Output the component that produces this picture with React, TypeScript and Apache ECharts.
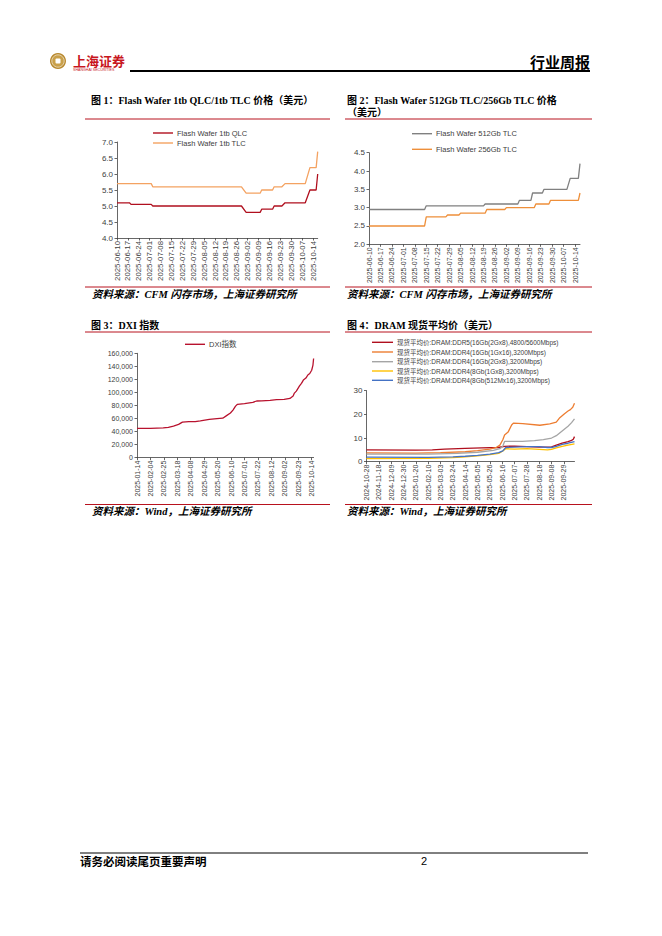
import React, { useEffect, useRef } from "react";
import * as echarts from "echarts";

// ---------- Figure 1: Flash Wafer 1tb QLC / 1tb TLC (USD) ----------
const fig1Range = ["2025-06-10", "2025-10-17"];
const qlc1tb: [string, number][] = [
  ["2025-06-10", 5.1], ["2025-06-18", 5.1], ["2025-06-19", 5.05], ["2025-07-02", 5.05],
  ["2025-07-03", 5.0], ["2025-08-29", 5.0], ["2025-09-01", 4.8], ["2025-09-10", 4.8],
  ["2025-09-11", 4.9], ["2025-09-18", 4.9], ["2025-09-19", 5.0], ["2025-09-24", 5.0],
  ["2025-09-26", 5.1], ["2025-10-09", 5.1], ["2025-10-12", 5.5], ["2025-10-16", 5.5],
  ["2025-10-17", 6.0],
];
const tlc1tb: [string, number][] = [
  ["2025-06-10", 5.7], ["2025-07-02", 5.7], ["2025-07-03", 5.6], ["2025-08-29", 5.6],
  ["2025-09-01", 5.4], ["2025-09-10", 5.4], ["2025-09-11", 5.5], ["2025-09-18", 5.5],
  ["2025-09-19", 5.6], ["2025-09-24", 5.6], ["2025-09-26", 5.7], ["2025-10-09", 5.7],
  ["2025-10-12", 6.2], ["2025-10-16", 6.2], ["2025-10-17", 6.7],
];

// ---------- Figure 2: Flash Wafer 512Gb TLC / 256Gb TLC (USD) ----------
const fig2Range = ["2025-06-10", "2025-10-17"];
const tlc512: [string, number][] = [
  ["2025-06-10", 2.95], ["2025-07-14", 2.95], ["2025-07-15", 3.05], ["2025-08-19", 3.05],
  ["2025-08-20", 3.1], ["2025-09-09", 3.1], ["2025-09-10", 3.2], ["2025-09-17", 3.2],
  ["2025-09-18", 3.4], ["2025-09-24", 3.4], ["2025-09-25", 3.5], ["2025-10-09", 3.5],
  ["2025-10-11", 3.8], ["2025-10-16", 3.8], ["2025-10-17", 4.2],
];
const tlc256: [string, number][] = [
  ["2025-06-10", 2.5], ["2025-07-14", 2.5], ["2025-07-15", 2.75], ["2025-07-27", 2.75],
  ["2025-07-28", 2.8], ["2025-08-04", 2.8], ["2025-08-05", 2.85], ["2025-08-20", 2.85],
  ["2025-08-21", 2.95], ["2025-09-01", 2.95], ["2025-09-02", 3.0], ["2025-09-19", 3.0],
  ["2025-09-20", 3.1], ["2025-09-28", 3.1], ["2025-09-29", 3.2], ["2025-10-16", 3.2],
  ["2025-10-17", 3.4],
];

// ---------- Figure 3: DXI index ----------
const fig3Range = ["2025-01-14", "2025-10-17"];
const dxi: [string, number][] = [
  ["2025-01-14", 44800], ["2025-02-04", 45000], ["2025-02-24", 45600], ["2025-03-04", 46500],
  ["2025-03-12", 48500], ["2025-03-20", 51000], ["2025-03-26", 54500], ["2025-04-05", 55200],
  ["2025-04-15", 55300], ["2025-04-23", 56500], ["2025-05-07", 58800], ["2025-05-19", 59800],
  ["2025-05-28", 60500], ["2025-06-03", 64500], ["2025-06-09", 68500], ["2025-06-13", 73000],
  ["2025-06-17", 79000], ["2025-06-20", 81800], ["2025-07-01", 83000], ["2025-07-14", 84900],
  ["2025-07-20", 86900], ["2025-07-28", 87000], ["2025-08-10", 88000], ["2025-08-20", 89000],
  ["2025-09-01", 89500], ["2025-09-10", 90800], ["2025-09-15", 94600], ["2025-09-17", 99000],
  ["2025-09-20", 102000], ["2025-09-25", 110000], ["2025-09-28", 114000], ["2025-10-01", 119000],
  ["2025-10-05", 122000], ["2025-10-08", 126700], ["2025-10-11", 129000], ["2025-10-14", 134000],
  ["2025-10-16", 142000], ["2025-10-17", 152000],
];

// ---------- Figure 4: DRAM spot average price (USD) ----------
const fig4Range = ["2024-10-28", "2025-10-17"];
const ddr5_16Gb_2Gx8: [string, number][] = [
  ["2024-10-28", 5.0], ["2025-01-20", 4.9], ["2025-02-17", 5.0], ["2025-03-10", 5.3],
  ["2025-04-14", 5.6], ["2025-05-12", 5.8], ["2025-06-09", 6.0], ["2025-06-20", 6.5],
  ["2025-07-07", 6.6], ["2025-07-28", 6.4], ["2025-08-18", 6.2], ["2025-09-08", 6.3],
  ["2025-09-16", 7.0], ["2025-09-26", 7.8], ["2025-10-06", 8.5], ["2025-10-12", 9.0],
  ["2025-10-15", 9.5], ["2025-10-17", 10.6],
];
const ddr4_16Gb_1Gx16: [string, number][] = [
  ["2024-10-28", 3.7], ["2025-01-20", 3.6], ["2025-03-03", 3.8], ["2025-04-14", 4.2],
  ["2025-05-05", 4.7], ["2025-05-26", 5.3], ["2025-06-05", 5.9], ["2025-06-12", 7.0],
  ["2025-06-17", 9.3], ["2025-06-20", 11.3], ["2025-06-26", 12.5], ["2025-07-02", 15.5],
  ["2025-07-05", 16.3], ["2025-07-21", 16.1], ["2025-08-19", 15.4], ["2025-09-05", 16.0],
  ["2025-09-16", 16.7], ["2025-09-22", 18.6], ["2025-09-30", 20.3], ["2025-10-06", 21.4],
  ["2025-10-10", 22.0], ["2025-10-14", 23.0], ["2025-10-17", 24.7],
];
const ddr4_16Gb_2Gx8: [string, number][] = [
  ["2024-10-28", 3.2], ["2025-02-10", 3.2], ["2025-04-01", 3.5], ["2025-05-05", 4.0],
  ["2025-06-01", 4.8], ["2025-06-12", 5.5], ["2025-06-17", 6.5], ["2025-06-20", 8.6],
  ["2025-07-20", 8.6], ["2025-08-10", 8.9], ["2025-08-25", 9.3], ["2025-09-08", 10.0],
  ["2025-09-16", 11.0], ["2025-09-26", 13.0], ["2025-10-06", 15.0], ["2025-10-12", 16.5],
  ["2025-10-17", 18.1],
];
const ddr4_8Gb_1Gx8: [string, number][] = [
  ["2024-10-28", 1.3], ["2025-02-10", 1.4], ["2025-03-24", 1.7], ["2025-04-14", 2.0],
  ["2025-05-05", 2.5], ["2025-05-26", 3.0], ["2025-06-10", 3.5], ["2025-06-17", 4.5],
  ["2025-06-22", 5.5], ["2025-07-07", 5.3], ["2025-07-28", 5.5], ["2025-08-18", 5.2],
  ["2025-09-01", 5.0], ["2025-09-08", 5.2], ["2025-09-16", 5.8], ["2025-09-26", 6.5],
  ["2025-10-06", 7.0], ["2025-10-17", 7.5],
];
const ddr4_8Gb_512Mx16: [string, number][] = [
  ["2024-10-28", 1.9], ["2025-02-10", 1.8], ["2025-03-24", 2.0], ["2025-04-14", 2.3],
  ["2025-05-05", 2.7], ["2025-05-26", 3.2], ["2025-06-10", 3.8], ["2025-06-17", 4.6],
  ["2025-06-22", 6.0], ["2025-07-07", 6.2], ["2025-07-28", 6.4], ["2025-08-18", 6.4],
  ["2025-09-01", 6.0], ["2025-09-08", 6.0], ["2025-09-16", 6.5], ["2025-09-26", 7.3],
  ["2025-10-06", 7.8], ["2025-10-17", 8.5],
];

const fig4Names = [
  "现货平均价:DRAM:DDR5(16Gb(2Gx8),4800/5600Mbps)",
  "现货平均价:DRAM:DDR4(16Gb(1Gx16),3200Mbps)",
  "现货平均价:DRAM:DDR4(16Gb(2Gx8),3200Mbps)",
  "现货平均价:DRAM:DDR4(8Gb(1Gx8),3200Mbps)",
  "现货平均价:DRAM:DDR4(8Gb(512Mx16),3200Mbps)",
];
const fig4Colors = ["#B00F1E", "#ED7D31", "#A5A5A5", "#FFC000", "#4472C4"];

const DAY = 86400000;
function dayList(range: string[]): string[] {
  const out: string[] = [];
  const s = Date.parse(range[0] + "T00:00:00Z");
  const e = Date.parse(range[1] + "T00:00:00Z");
  for (let t = s; t <= e; t += DAY) out.push(new Date(t).toISOString().slice(0, 10));
  return out;
}

const SANS = '"Liberation Sans", Arial, "Noto Sans CJK SC", sans-serif';
const TITLE_FONT = '"Liberation Serif", "Noto Sans CJK SC", serif';
const CJK = '"Noto Sans CJK SC", sans-serif';
const AXIS_COLOR = "#404040";
const RED = "#B8121E";

export default function App() {
  const ref = useRef<HTMLDivElement>(null);
  useEffect(() => {
    if (!ref.current) return;
    const chart = echarts.init(ref.current, undefined, { renderer: "svg" });

    const xAx = (gridIndex: number, data: string[], interval: number, fontSize: number) => ({
      type: "category",
      gridIndex,
      data,
      boundaryGap: false,
      axisLine: { lineStyle: { color: AXIS_COLOR, width: 0.8 } },
      axisTick: { show: true, interval, length: 2.5, lineStyle: { color: AXIS_COLOR, width: 0.8 } },
      axisLabel: { interval, rotate: 90, fontSize, margin: 3, color: "#404040", fontFamily: SANS },
      splitLine: { show: false },
    });
    const yAx = (gridIndex: number, min: number, max: number, interval: number, fmt: (v: number) => string, fontSize: number) => ({
      type: "value",
      gridIndex,
      min,
      max,
      interval,
      axisLine: { show: true, lineStyle: { color: AXIS_COLOR, width: 0.8 } },
      axisTick: { show: true, length: 2.5, lineStyle: { color: AXIS_COLOR, width: 0.8 } },
      axisLabel: { formatter: fmt, fontSize, margin: 4, color: "#404040", fontFamily: SANS },
      splitLine: { show: false },
    });
    const line = (name: string, xi: number, data: [string, number][], color: string) => ({
      type: "line",
      name,
      xAxisIndex: xi,
      yAxisIndex: xi,
      data,
      showSymbol: false,
      symbol: "none",
      lineStyle: { color, width: 1.3 },
      itemStyle: { color },
    });
    const leg = (name: string, left: number, top: number, w: number, fs: number, lh: number) => ({
      data: [name],
      left,
      top,
      padding: 0,
      itemGap: 0,
      icon: "rect",
      itemWidth: w,
      itemHeight: 1.4,
      selectedMode: false,
      textStyle: { fontSize: fs, lineHeight: lh, color: "#404040", fontFamily: SANS, padding: [0, 0, 0, -1] },
    });

    const txt = (text: string, x: number, y: number, font: string, size: number, opts: any = {}) => ({
      type: "text",
      style: {
        text,
        x,
        y,
        fontFamily: font,
        fontSize: size,
        fontWeight: opts.weight || "bold",
        fontStyle: opts.style || "normal",
        fill: opts.fill || "#000",
        verticalAlign: "middle",
        align: opts.align || "left",
      },
    });
    const hline = (x1: number, x2: number, y: number, color: string, w: number) => ({
      type: "line",
      shape: { x1, y1: y, x2, y2: y },
      style: { stroke: color, lineWidth: w },
    });

    const d1 = dayList(fig1Range);
    const d2 = dayList(fig2Range);
    const d3 = dayList(fig3Range);
    const d4 = dayList(fig4Range);

    const option: any = {
      animation: false,
      backgroundColor: "#fff",
      grid: [
        { left: 117, top: 142, width: 200.7, height: 96, outerBoundsMode: "none" },
        { left: 369, top: 152.7, width: 211, height: 91.6, outerBoundsMode: "none" },
        { left: 137, top: 353.3, width: 176.6, height: 104.4, outerBoundsMode: "none" },
        { left: 366.5, top: 390.7, width: 208, height: 71, outerBoundsMode: "none" },
      ],
      xAxis: [xAx(0, d1, 6, 7.8), xAx(1, d2, 6, 7), xAx(2, d3, 20, 7), xAx(3, d4, 20, 7)],
      yAxis: [
        yAx(0, 4, 7, 0.5, (v) => v.toFixed(1), 8),
        yAx(1, 2, 4.5, 0.5, (v) => v.toFixed(1), 8),
        yAx(2, 0, 160000, 20000, (v) => String(v).replace(/\B(?=(\d{3})+(?!\d))/g, ","), 7),
        yAx(3, 0, 30, 10, (v) => String(v), 8),
      ],
      legend: [
        leg("Flash Wafer 1tb QLC", 153, 128, 20, 7.5, 10),
        leg("Flash Wafer 1tb TLC", 153, 138, 20, 7.5, 10),
        leg("Flash Wafer 512Gb TLC", 412, 128.7, 20, 7.5, 10),
        leg("Flash Wafer 256Gb TLC", 412, 144.3, 20, 7.5, 10),
        leg("DXI指数", 185, 339.3, 20, 7.5, 10),
        ...fig4Names.map((n, i) => leg(n, 372, [342.3, 352, 361.7, 371, 380.3][i] - 4.5, 21, 6.5, 9)),
      ],
      series: [
        line("Flash Wafer 1tb QLC", 0, qlc1tb, "#B00F1E"),
        line("Flash Wafer 1tb TLC", 0, tlc1tb, "#F4A261"),
        line("Flash Wafer 512Gb TLC", 1, tlc512, "#808080"),
        line("Flash Wafer 256Gb TLC", 1, tlc256, "#EE8F3A"),
        line("DXI指数", 2, dxi, "#B8122E"),
        line(fig4Names[0], 3, ddr5_16Gb_2Gx8, fig4Colors[0]),
        line(fig4Names[1], 3, ddr4_16Gb_1Gx16, fig4Colors[1]),
        line(fig4Names[2], 3, ddr4_16Gb_2Gx8, fig4Colors[2]),
        line(fig4Names[3], 3, ddr4_8Gb_1Gx8, fig4Colors[3]),
        line(fig4Names[4], 3, ddr4_8Gb_512Mx16, fig4Colors[4]),
      ],
      graphic: [
        // header
        { type: "circle", shape: { cx: 58, cy: 61, r: 8 }, style: { fill: "#B8892E" } },
        { type: "circle", shape: { cx: 58, cy: 61, r: 6.2 }, style: { fill: "#C9A04A", stroke: "#fff", lineWidth: 0.6 } },
        { type: "rect", shape: { x: 55.5, y: 58.5, width: 5, height: 5, r: 1 }, style: { fill: "#fff" } },
        txt("上海证券", 73, 60, CJK, 13, { fill: "#C8161D" }),
        txt("SHANGHAI SECURITIES", 73, 70, SANS, 3.6, { fill: "#C8161D", weight: "normal" }),
        txt("行业周报", 590, 61, CJK, 15, { align: "right" }),
        hline(130, 590, 71, "#000", 2),
        // figure titles
        txt("图 1：Flash Wafer 1tb QLC/1tb TLC 价格（美元）", 91, 100, TITLE_FONT, 10),
        txt("图 2：Flash Wafer 512Gb TLC/256Gb TLC 价格", 347, 100, TITLE_FONT, 10),
        txt("（美元）", 347, 112, TITLE_FONT, 10),
        txt("图 3：DXI 指数", 91, 325, TITLE_FONT, 10),
        txt("图 4：DRAM 现货平均价（美元）", 347, 325, TITLE_FONT, 10),
        hline(85, 330, 119, RED, 1),
        hline(345, 592, 119, RED, 1),
        hline(85, 330, 332, RED, 1),
        hline(345, 592, 332, RED, 1),
        // sources
        hline(85, 330, 287, RED, 1),
        hline(345, 592, 287, RED, 1),
        hline(85, 330, 504.5, RED, 1),
        hline(345, 592, 504.5, RED, 1),
        txt("资料来源：CFM 闪存市场，上海证券研究所", 92, 294, TITLE_FONT, 10.5, { style: "italic" }),
        txt("资料来源：CFM 闪存市场，上海证券研究所", 347, 294, TITLE_FONT, 10.5, { style: "italic" }),
        txt("资料来源：Wind，上海证券研究所", 92, 511.5, TITLE_FONT, 10.5, { style: "italic" }),
        txt("资料来源：Wind，上海证券研究所", 347, 511.5, TITLE_FONT, 10.5, { style: "italic" }),
        // footer
        hline(80, 588, 853, "#000", 1),
        txt("请务必阅读尾页重要声明", 80, 861, CJK, 11.5),
        txt("2", 424, 861, SANS, 11, { weight: "normal", align: "center" }),
      ],
    };
    chart.setOption(option);
    return () => chart.dispose();
  }, []);
  return <div ref={ref} style={{ position: "absolute", left: 0, top: 0, width: 662, height: 936 }} />;
}
